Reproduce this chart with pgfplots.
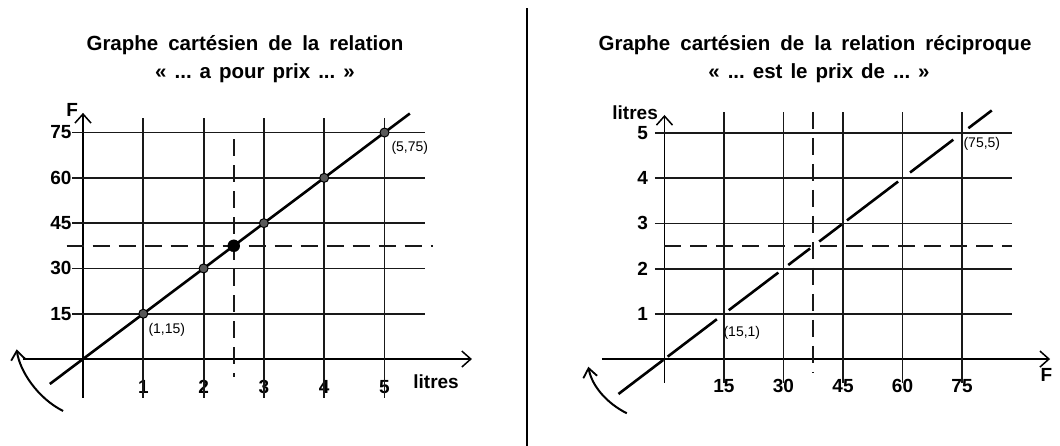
\documentclass[border=0pt]{standalone}
\usepackage{fontspec}
\setmainfont{Liberation Sans}
\usepackage{pgfplots}
\pgfplotsset{compat=1.18}
\usetikzlibrary{arrows.meta}

\tikzset{
  grd/.style={line width=1.8pt, black!90},
  dsh/.style={line width=1.7pt, black!90, dash pattern=on 17pt off 9pt},
  ttl/.style={font=\fontsize{20.5}{20.5}\selectfont\bfseries},
  lbl/.style={font=\fontsize{19}{19}\selectfont\bfseries},
  plbl/.style={font=\fontsize{14}{14}\selectfont},
  arr/.style={line width=2pt, -{Straight Barb[length=9pt,width=14pt,line width=1.8pt]}},
}
\newcommand{\wsp}{\hspace{8pt}}
\newcommand{\tsp}{\hspace{10pt}}

\begin{document}
\begin{tikzpicture}[x=1pt,y=1pt]
\path[use as bounding box] (0,0) rectangle (1060,446);
\draw[line width=2.4pt] (527,0) -- (527,438);

\node[ttl] at (245,401) {Graphe\tsp cartésien\tsp de\tsp la\tsp relation};
\node[ttl] at (255,373) {«\wsp...\wsp a\wsp pour\wsp prix\wsp ...\wsp»};
\node[ttl] at (815,401) {Graphe\tsp cartésien\tsp de\tsp la\tsp relation\tsp réciproque};
\node[ttl] at (819,373) {«\wsp...\wsp est\wsp le\wsp prix\wsp de\wsp ...\wsp»};

% ---------------- left chart ----------------
\begin{axis}[
  at={(22.7pt,48pt)}, anchor=south west,
  x=60.3pt, y=3.02pt,
  xmin=-1.0, xmax=6.45, ymin=-12.9, ymax=81.5,
  axis lines=middle,
  axis line style={line width=1.8pt, -{Straight Barb[length=9pt,width=16pt,line width=1.5pt]}},
  xtick={1,2,3,4,5}, xticklabels={1,2,3,4,5},
  ytick={15,30,45,60,75}, yticklabels={15,30,45,60,75},
  major tick length=0pt,
  tick label style={font=\fontsize{19}{19}\selectfont\bfseries},
  xticklabel style={yshift=-18pt},
  yticklabel style={xshift=-8pt},
  clip=false,
]
\pgfplotsinvokeforeach{15,30,45,60,75}{\draw[grd] (axis cs:-0.18,#1) -- (axis cs:5.67,#1);}
\pgfplotsinvokeforeach{1,2,3,4,5}{\draw[grd] (axis cs:#1,-12.9) -- (axis cs:#1,79.8);}
\draw[dsh] (axis cs:2.5,72.8) -- (axis cs:2.5,-6);
\draw[dsh] (axis cs:-0.27,37.5) -- (axis cs:5.8,37.5);
\addplot[line width=2.6pt, black] coordinates {(-0.55,-8.25) (5.42,81.3)};
\addplot[only marks, mark=*, mark size=4.5pt, mark options={fill=black!65, draw=black, line width=1pt}]
  coordinates {(1,15) (2,30) (3,45) (4,60) (5,75)};
\addplot[only marks, mark=*, mark size=6pt, black] coordinates {(2.5,37.5)};
\node[plbl] at (axis cs:1.39,9.6) {(1,15)};
\node[plbl] at (axis cs:5.42,69.8) {(5,75)};
\node[lbl, anchor=west] at (axis cs:5.42,-7.6) {litres};
\node[lbl] at (axis cs:-0.18,82.5) {F};
\draw[arr] (axis cs:-0.33,-17.2) .. controls (axis cs:-0.75,-13) and (axis cs:-1.05,-4) .. (axis cs:-1.1,3.2);
\end{axis}

% ---------------- right chart ----------------
\begin{axis}[
  at={(601.8pt,63pt)}, anchor=south west,
  x=3.967pt, y=45.2pt,
  xmin=-15.8, xmax=97.2, ymin=-0.53, ymax=5.4,
  axis lines=middle,
  axis line style={line width=1.8pt, -{Straight Barb[length=9pt,width=16pt,line width=1.5pt]}},
  xtick={15,30,45,60,75}, xticklabels={15,30,45,60,75},
  ytick={1,2,3,4,5}, yticklabels={1,2,3,4,5},
  major tick length=0pt,
  tick label style={font=\fontsize{19}{19}\selectfont\bfseries},
  xticklabel style={yshift=-17pt},
  yticklabel style={xshift=-13pt},
  clip=false,
]
\pgfplotsinvokeforeach{1,2,3,4,5}{\draw[grd] (axis cs:-2.4,#1) -- (axis cs:87.5,#1);}
\pgfplotsinvokeforeach{15,30,45,60,75}{\draw[grd] (axis cs:#1,-0.53) -- (axis cs:#1,5.47);}
\draw[dsh] (axis cs:37.5,5.47) -- (axis cs:37.5,-0.31);
\draw[dsh] (axis cs:0,2.5) -- (axis cs:87.5,2.5);
\addplot[line width=2.6pt, black] coordinates {(-11.6,-0.773) (-0.3,-0.02)};
\addplot[line width=2.6pt, black] coordinates {(0.8,0.053) (13.2,0.88)};
\addplot[line width=2.6pt, black] coordinates {(16.2,1.08) (28.7,1.913)};
\addplot[line width=2.6pt, black] coordinates {(31.2,2.08) (36.7,2.447)};
\addplot[line width=2.6pt, black] coordinates {(39.0,2.6) (44.7,2.98)};
\addplot[line width=2.6pt, black] coordinates {(46.0,3.067) (58.9,3.927)};
\addplot[line width=2.6pt, black] coordinates {(61.9,4.127) (72.8,4.853)};
\addplot[line width=2.6pt, black] coordinates {(76.6,5.107) (82.5,5.5)};
\node[plbl] at (axis cs:19.5,0.57) {(15,1)};
\node[plbl] at (axis cs:80,4.77) {(75,5)};
\node[lbl] at (axis cs:-7.4,5.46) {litres};
\node[lbl] at (axis cs:96.3,-0.35) {F};
\draw[arr] (axis cs:-9.5,-1.2) .. controls (axis cs:-14.5,-0.98) and (axis cs:-18.3,-0.6) .. (axis cs:-19.2,-0.17);
\end{axis}
\end{tikzpicture}
\end{document}
